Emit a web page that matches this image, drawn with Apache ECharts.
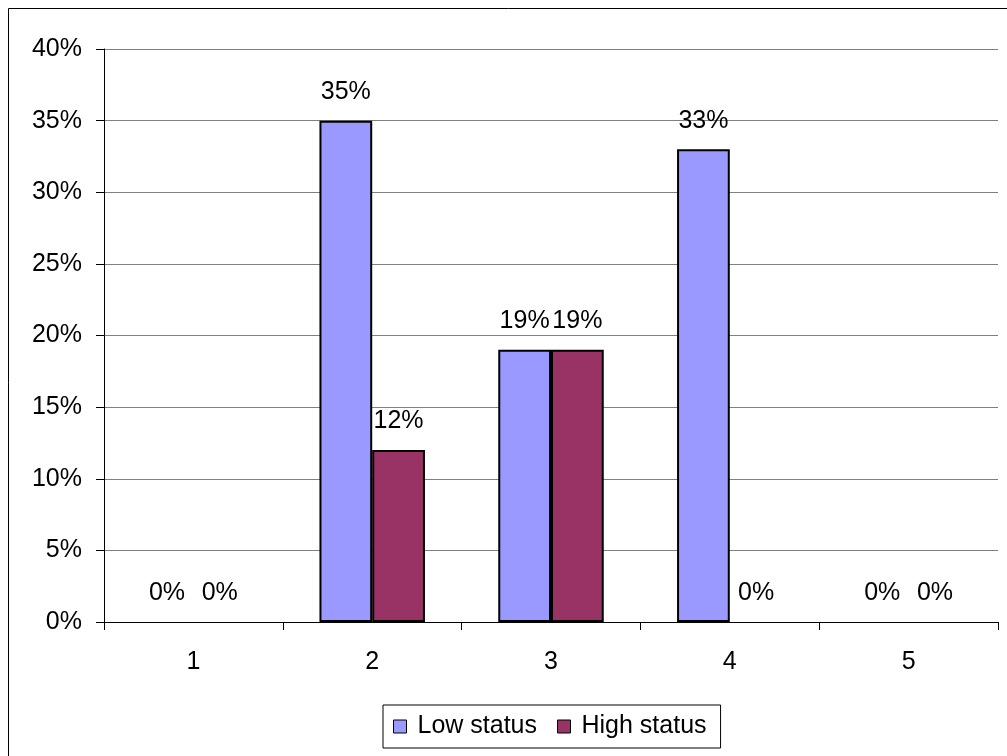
<!DOCTYPE html>
<html>
<head>
<meta charset="utf-8">
<script src="https://cdn.jsdelivr.net/npm/echarts@6/dist/echarts.min.js"></script>
<style>html,body{margin:0;padding:0;background:#fff}#c{width:1007px;height:756px}</style>
</head>
<body>
<div id="c"></div>
<script>
const categories = ['1', '2', '3', '4', '5'];
const lowStatus = [0, 35, 19, 33, 0];
const highStatus = [0, 12, 19, 0, 0];
const seriesNames = ['Low status', 'High status'];

const FONT = '"Liberation Sans", Arial, sans-serif';
const FS = 25;
const chart = echarts.init(document.getElementById('c'));
const lbl = {
  show: true, position: 'top', distance: 16, formatter: '{c}%',
  color: '#000', fontFamily: FONT, fontSize: FS
};
const toItems = arr => arr.map(v => v === 0 ? { value: v, itemStyle: { borderWidth: 0 } } : v);
chart.setOption({
  animation: false,
  backgroundColor: '#fff',
  graphic: [{
    type: 'rect', shape: { x: 8.5, y: 8.5, width: 1010, height: 760 },
    style: { fill: 'none', stroke: '#000', lineWidth: 1 }, silent: true
  }],
  grid: { left: 104, right: 9, top: 49, bottom: 134 },
  legend: {
    left: 383, top: 705,
    padding: [9, 14, 9, 10],
    itemWidth: 13, itemHeight: 13, itemGap: 20,
    borderColor: '#000', borderWidth: 1,
    icon: 'rect',
    itemStyle: { borderWidth: 1, borderColor: '#000' },
    textStyle: { fontFamily: FONT, fontSize: FS, color: '#000', padding: [0, 0, 0, 6] },
    data: seriesNames
  },
  xAxis: {
    type: 'category', data: categories,
    axisLine: { lineStyle: { color: '#000', width: 1 } },
    axisTick: { show: true, length: 8, lineStyle: { color: '#000' } },
    axisLabel: { margin: 28, color: '#000', fontFamily: FONT, fontSize: FS }
  },
  yAxis: {
    type: 'value', min: 0, max: 40, interval: 5,
    axisLine: { show: true, lineStyle: { color: '#000' } },
    axisTick: { show: true, length: 8, lineStyle: { color: '#000' } },
    axisLabel: { formatter: '{value}%', margin: 22, color: '#000', fontFamily: FONT, fontSize: FS },
    splitLine: { show: true, lineStyle: { color: '#808080', width: 1 } }
  },
  series: [
    {
      name: seriesNames[0], type: 'bar', data: toItems(lowStatus),
      barGap: '0%', barCategoryGap: '41%',
      itemStyle: { color: '#9999FF', borderColor: '#000', borderWidth: 2 },
      label: lbl
    },
    {
      name: seriesNames[1], type: 'bar', data: toItems(highStatus),
      barGap: '0%', barCategoryGap: '41%',
      itemStyle: { color: '#993366', borderColor: '#000', borderWidth: 2 },
      label: lbl
    }
  ]
});
</script>
</body>
</html>
